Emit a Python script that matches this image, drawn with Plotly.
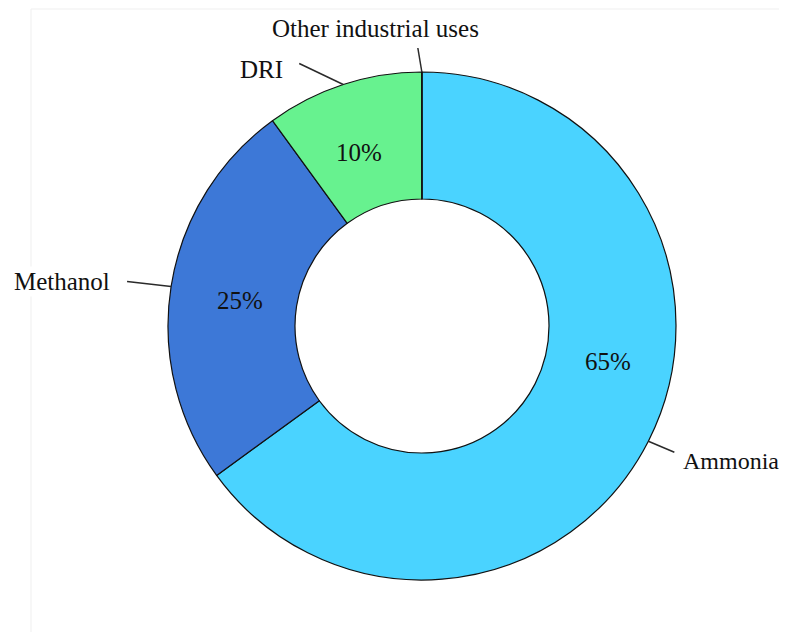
import math
import plotly.graph_objects as go

categories = ["Ammonia", "Methanol", "DRI", "Other industrial uses"]
values = [65, 25, 10, 0.02]
pct_text = ["65%", "25%", "10%", ""]
colors = ["#4AD3FF", "#3D78D7", "#67F28F", "#111111"]

W, H = 787, 624
OFF = 8                      # page body margin added by the browser
cx, cy, R = 422 - OFF, 326 - OFF, 254   # pixel centre / radius of the donut
FONT = "Liberation Serif, Times New Roman, serif"
FS = 25


def px(x, y):
    return x / W, 1 - y / H


fig = go.Figure(go.Pie(
    labels=categories,
    values=values,
    textinfo="none",
    hole=0.5,
    sort=False,
    direction="clockwise",
    rotation=0,
    marker=dict(colors=colors, line=dict(color="#111111", width=1.2)),
    showlegend=False,
    hoverinfo="label+percent",
    domain=dict(x=[(cx - R) / W, (cx + R) / W], y=[1 - (cy + R) / H, 1 - (cy - R) / H]),
))

# label layout (pixel offsets relative to the leader-line anchor on the ring)
label_cfg = {
    "Ammonia": dict(end=(26, 11), txt=(33, 20), xanchor="left", size=24),
    "Methanol": dict(end=(-44, -5), txt=(-59, -5), xanchor="right", size=FS),
    "DRI": dict(end=(-44, -21), txt=(-58, -15), xanchor="right", size=FS),
    "Other industrial uses": dict(end=(-4, -24), txt=(-46, -44), xanchor="center", size=FS),
}
pct_cfg = {  # (angle offset in degrees, radius) for the percentage text
    "Ammonia": (-16, 189),
    "Methanol": (-1, 184),
    "DRI": (-2, 185),
}

total = sum(values)
cum = 0
shapes = []
annotations = []
for cat, v, t in zip(categories, values, pct_text):
    mid = (cum + v / 2) / total * 360
    cum += v
    a = math.radians(mid)
    cfg = label_cfg[cat]
    x0 = cx + R * math.sin(a)
    y0 = cy - R * math.cos(a)
    x1, y1 = x0 + cfg["end"][0], y0 + cfg["end"][1]
    xa, ya = px(x0, y0)
    xb, yb = px(x1, y1)
    shapes.append(dict(type="line", xref="paper", yref="paper",
                       x0=xa, y0=ya, x1=xb, y1=yb,
                       line=dict(color="#2A2A2A", width=1.5)))
    tx, ty = px(x0 + cfg["txt"][0], y0 + cfg["txt"][1])
    annotations.append(dict(text=cat, xref="paper", yref="paper",
                            x=tx, y=ty, xanchor=cfg["xanchor"], yanchor="middle",
                            showarrow=False, bgcolor="white",
                            font=dict(family=FONT, size=cfg["size"], color="#111111")))
    if t:
        da, rr = pct_cfg[cat]
        b = math.radians(mid + da)
        qx, qy = px(cx + rr * math.sin(b), cy - rr * math.cos(b))
        annotations.append(dict(text=t, xref="paper", yref="paper",
                                x=qx, y=qy, xanchor="center", yanchor="middle",
                                showarrow=False,
                                font=dict(family=FONT, size=FS, color="#111111")))

# faint frame of the plot area
fx, fy = px(31 - OFF, 9 - OFF)
shapes.insert(0, dict(type="rect", xref="paper", yref="paper",
                      x0=fx, y0=-0.05, x1=1.05, y1=fy,
                      line=dict(color="#EFEFEF", width=1), layer="below"))

fig.update_layout(
    width=W, height=H,
    margin=dict(l=0, r=0, t=0, b=0),
    paper_bgcolor="white",
    plot_bgcolor="white",
    shapes=shapes,
    annotations=annotations,
)

fig.write_html("out.html")
